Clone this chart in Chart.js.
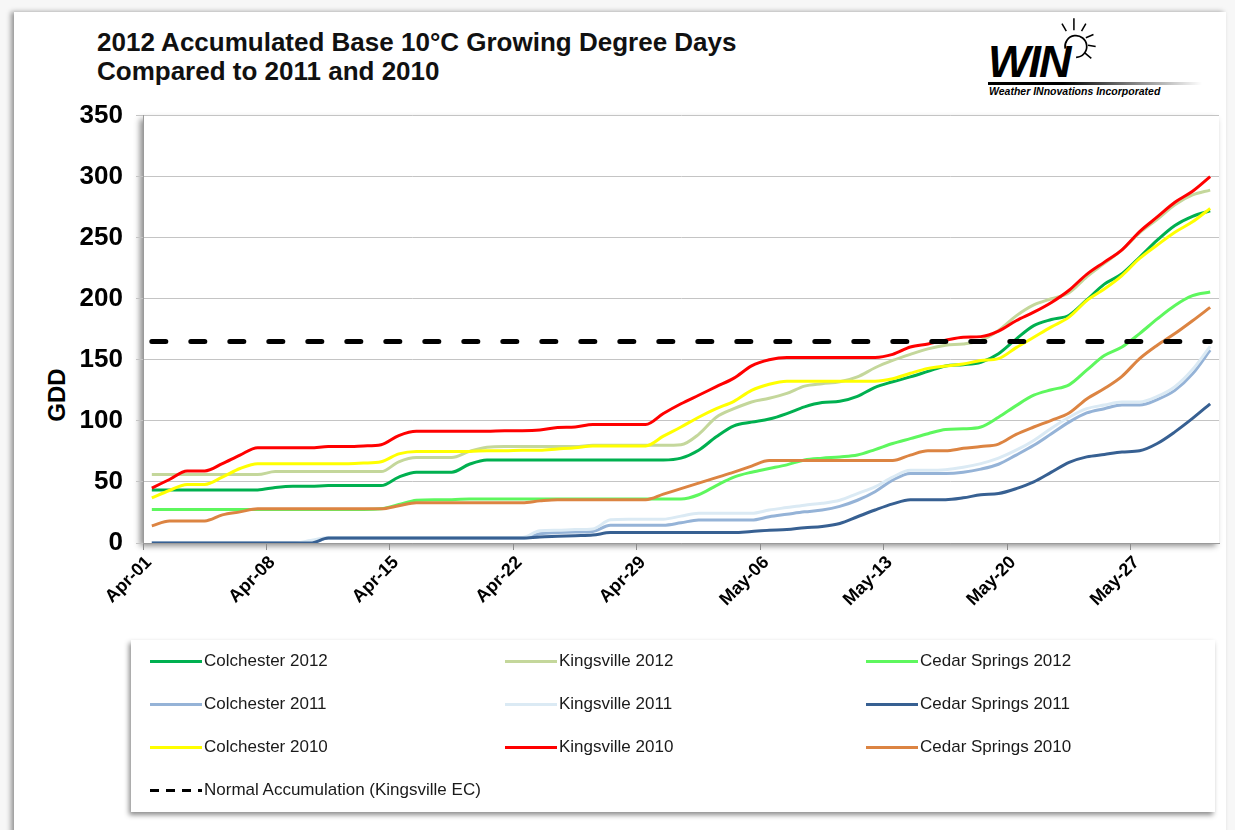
<!DOCTYPE html>
<html>
<head>
<meta charset="utf-8">
<script src="https://cdn.jsdelivr.net/npm/chart.js@4.4.0/dist/chart.umd.min.js"></script>
<style>
  body { margin: 0; width: 1235px; height: 830px; background: #f7f7f7; overflow: hidden; position: relative;
         font-family: "Liberation Sans", Arial, sans-serif; }
  #card { position: absolute; left: 14px; top: 12px; width: 1212px; height: 840px; background: #fff;
          box-shadow: -3px 0 5px rgba(0,0,0,0.4); }
  #title { position: absolute; left: 97px; top: 28px; font-weight: bold; font-size: 26px; line-height: 29px; color: #111; }
  #gdd { position: absolute; left: 57px; top: 395px; transform: translate(-50%, -50%) rotate(-90deg);
         font-weight: bold; font-size: 24px; color: #000; }
  #chartBox { position: absolute; left: 0; top: 87px; width: 1235px; height: 553px; }
  #legend { position: absolute; left: 131px; top: 640px; width: 1084px; height: 172px; background: #fff;
            box-shadow: -2px 3px 5px rgba(0,0,0,0.45); }
  .item { position: absolute; height: 20px; display: flex; align-items: center; font-size: 17px; color: #1a1a1a; white-space: nowrap; }
  .swatch { width: 52px; height: 3px; margin-right: 2px; }
  .dash { width: 52px; height: 3px; margin-right: 2px; background: repeating-linear-gradient(to right, #000 0 9px, transparent 9px 16px); }
  #logo { position: absolute; left: 986px; top: 14px; width: 220px; height: 90px; }
  #win { position: absolute; left: 2px; top: 22px; font-size: 45px; font-weight: bold; font-style: italic; letter-spacing: -2px; color: #000; }
  #bar { position: absolute; left: 2px; top: 68px; width: 214px; height: 3px; background: linear-gradient(to right, #000 35%, rgba(0,0,0,0)); }
  #sub { position: absolute; left: 3px; top: 71px; font-size: 10.5px; font-weight: bold; font-style: italic; color: #000; }
  #sun { position: absolute; left: 64px; top: 2px; }
</style>
</head>
<body>
<div id="card"></div>
<div id="title">2012 Accumulated Base 10°C Growing Degree Days<br>Compared to 2011 and 2010</div>
<div id="logo">
  <svg id="sun" width="50" height="50" viewBox="0 0 46 46">
    <path d="M14 30 A10 10 0 1 1 24 38" fill="none" stroke="#000" stroke-width="1.6"/>
    <g stroke="#000" stroke-width="1.4">
      <line x1="22" y1="2" x2="22" y2="13"/>
      <line x1="33" y1="7" x2="29" y2="14"/>
      <line x1="40" y1="17" x2="33" y2="20"/>
      <line x1="42" y1="28" x2="35" y2="27"/>
      <line x1="38" y1="39" x2="32" y2="34"/>
      <line x1="11" y1="7" x2="15" y2="14"/>
    </g>
  </svg>
  <div id="win">WIN</div>
  <div id="bar"></div>
  <div id="sub">Weather INnovations Incorporated</div>
</div>
<div id="gdd">GDD</div>
<div id="chartBox"><canvas id="chart"></canvas></div>
<div id="legend"></div>
<script>
var dateLabels = ['Apr-01', 'Apr-02', 'Apr-03', 'Apr-04', 'Apr-05', 'Apr-06', 'Apr-07', 'Apr-08', 'Apr-09', 'Apr-10',
    'Apr-11', 'Apr-12', 'Apr-13', 'Apr-14', 'Apr-15', 'Apr-16', 'Apr-17', 'Apr-18', 'Apr-19', 'Apr-20',
    'Apr-21', 'Apr-22', 'Apr-23', 'Apr-24', 'Apr-25', 'Apr-26', 'Apr-27', 'Apr-28', 'Apr-29', 'Apr-30',
    'May-01', 'May-02', 'May-03', 'May-04', 'May-05', 'May-06', 'May-07', 'May-08', 'May-09', 'May-10',
    'May-11', 'May-12', 'May-13', 'May-14', 'May-15', 'May-16', 'May-17', 'May-18', 'May-19', 'May-20',
    'May-21', 'May-22', 'May-23', 'May-24', 'May-25', 'May-26', 'May-27', 'May-28', 'May-29', 'May-30',
    'May-31'];

var colchester2012 = [43.5, 43.5, 43.5, 43.5, 43.5, 43.5, 43.5, 45.5, 46.5, 46.5,
    47, 47, 47, 47, 54, 58, 58, 58, 64.5, 68,
    68, 68, 68, 68, 68, 68, 68, 68, 68, 68,
    69.5, 76, 87, 96, 99, 101.5, 106, 111.5, 115, 116,
    120, 127.5, 132, 136, 140.5, 145, 146, 148, 155, 167,
    178, 183, 186.5, 199, 212, 220.5, 234, 248, 260, 267.5,
    272];
var kingsville2012 = [56, 56, 56, 56, 56, 56, 56, 58.5, 58.5, 58.5,
    58.5, 58.5, 58.5, 58.5, 66.5, 70, 70, 70, 75, 78.5,
    79, 79, 79, 79, 79, 80, 80, 80, 80, 80,
    80.5, 89, 103, 110, 115.5, 118.5, 122.5, 128.5, 130.5, 132,
    136, 143.5, 149.5, 154.5, 159, 162, 163, 166, 174, 186,
    195, 200, 205, 218, 229, 240, 254, 265, 277, 285,
    289];
var cedarSprings2012 = [27.5, 27.5, 27.5, 27.5, 27.5, 27.5, 27.5, 27.5, 27.5, 27.5,
    27.5, 27.5, 27.5, 28, 31.5, 35, 35.5, 35.5, 36, 36,
    36, 36, 36, 36, 36, 36, 36, 36, 36, 36,
    36, 39.5, 47, 54, 58, 61, 64, 68, 69.5, 70.5,
    72, 76.5, 81.5, 85.5, 89.5, 93, 93.5, 95, 103, 112.5,
    121, 125.5, 129.5, 141.5, 153.5, 160.5, 171.5, 183.5, 194.5, 202.5,
    205.5];
var colchester2011 = [0, 0, 0, 0, 0, 0, 0, 0, 0, 0,
    4, 4, 4, 4, 4, 4, 4, 4, 4, 4,
    4, 4, 7.5, 8.5, 9, 9.5, 14.5, 14.5, 14.5, 14.5,
    16.5, 18.8, 18.8, 18.8, 18.8, 21.5, 23.5, 25.5, 27, 30,
    35, 42, 51.5, 57, 57, 57, 58, 60.5, 64.5, 72,
    80, 89.5, 99, 106.5, 110, 113, 113, 117.5, 125, 138.5,
    158];
var kingsville2011 = [0, 0, 0, 0, 0, 0, 0, 0, 0, 2,
    4.5, 4.5, 4.5, 4.5, 4.5, 4.5, 4.5, 4.5, 4.5, 4.5,
    4.5, 4.5, 10, 10.5, 11, 11.5, 19, 19.5, 19.5, 19.5,
    22, 24.3, 24.3, 24.3, 24.3, 27, 29, 31, 32.5, 35,
    40.5, 46, 54, 59.5, 59.5, 60, 62, 65, 69.5, 76,
    84, 94, 103, 110, 113, 115.5, 115.5, 120, 128, 142,
    161];
var cedarSprings2011 = [0, 0, 0, 0, 0, 0, 0, 0, 0, 0,
    4, 4, 4, 4, 4, 4, 4, 4, 4, 4,
    4, 4, 5, 5.5, 6, 6.5, 8.5, 8.5, 8.5, 8.5,
    8.5, 8.5, 8.5, 8.5, 9.5, 10.5, 11, 12.5, 13.5, 16,
    21.5, 27, 32, 35.5, 35.5, 35.5, 37, 39.5, 40.5, 44.5,
    50, 58, 66, 70.5, 72.5, 74.5, 75.5, 81.5, 91, 102,
    114];
var colchester2010 = [37, 43, 48, 48, 54, 61, 65, 65, 65, 65,
    65, 65, 65.5, 66.5, 73, 75, 75, 75, 75, 75.5,
    75.5, 76, 76, 77, 78, 79.5, 79.5, 79.5, 79.5, 87.5,
    95, 103, 110, 116, 125, 130, 132.5, 132.5, 132.5, 132.5,
    132.5, 132.5, 134.5, 139, 143, 145, 146.5, 149.5, 151, 160,
    168.5, 177, 185, 198.5, 208, 219, 233, 244, 254.5, 263,
    274];
var kingsville2010 = [45, 52, 59, 59, 65, 72, 78, 78, 78, 78,
    79, 79, 79.5, 80.5, 88, 91.5, 91.5, 91.5, 91.5, 91.5,
    92, 92, 92.5, 94.5, 95, 97, 97, 97, 97, 106,
    114, 121, 128, 135, 145, 150, 152, 152, 152, 152,
    152, 152, 154.5, 160.5, 163, 166, 168.5, 169, 173.5, 182,
    189, 197, 207, 220, 230, 240, 255, 267, 279, 288,
    300];
var cedarSprings2010 = [14, 18, 18, 18, 23, 25.5, 28, 28, 28, 28,
    28, 28, 28, 28, 30.5, 33, 33, 33, 33, 33,
    33, 33, 34.5, 35.5, 35.5, 35.5, 35.5, 35.5, 35.5, 40,
    44.5, 49, 53.5, 58, 63, 67.5, 67.5, 67.5, 67.5, 67.5,
    67.5, 67.5, 67.5, 72, 75.5, 75.5, 77.5, 79, 81, 89,
    95, 100.5, 106.5, 118, 126.5, 136.5, 151, 162, 171.5, 182,
    193];
var normalKingsvilleEC = [165, 165, 165, 165, 165, 165, 165, 165, 165, 165,
    165, 165, 165, 165, 165, 165, 165, 165, 165, 165,
    165, 165, 165, 165, 165, 165, 165, 165, 165, 165,
    165, 165, 165, 165, 165, 165, 165, 165, 165, 165,
    165, 165, 165, 165, 165, 165, 165, 165, 165, 165,
    165, 165, 165, 165, 165, 165, 165, 165, 165, 165,
    165];

var yTicks = [0, 50, 100, 150, 200, 250, 300, 350];

var seriesNames = ['Colchester 2012', 'Kingsville 2012', 'Cedar Springs 2012',
    'Colchester 2011', 'Kingsville 2011', 'Cedar Springs 2011',
    'Colchester 2010', 'Kingsville 2010', 'Cedar Springs 2010',
    'Normal Accumulation (Kingsville EC)'];
var seriesData = [colchester2012, kingsville2012, cedarSprings2012,
    colchester2011, kingsville2011, cedarSprings2011,
    colchester2010, kingsville2010, cedarSprings2010,
    normalKingsvilleEC];
var seriesColors = ['#00b050', '#c4d79b', '#5ef75e',
    '#95b3d7', '#dbeaf4', '#376092',
    '#ffff00', '#ff0000', '#dc8442',
    '#000000'];

var fontFamily = '"Liberation Sans", Arial, sans-serif';

var datasets = seriesNames.map(function (name, i) {
    var isNormal = i === seriesNames.length - 1;
    return {
        label: name,
        data: seriesData[i],
        borderColor: seriesColors[i],
        backgroundColor: seriesColors[i],
        borderWidth: isNormal ? 5 : 3,
        borderDash: isNormal ? [14, 25] : [],
        borderCapStyle: isNormal ? 'round' : 'butt',
        pointRadius: 0,
        cubicInterpolationMode: 'monotone',
        fill: false,
        order: seriesNames.length - i
    };
});

var plotShadow = {
    id: 'plotShadow',
    beforeDraw: function (chart) {
        var a = chart.chartArea;
        var c = chart.ctx;
        c.save();
        c.shadowColor = 'rgba(0, 0, 0, 0.45)';
        c.shadowBlur = 6;
        c.shadowOffsetX = -3;
        c.shadowOffsetY = 3;
        c.fillStyle = '#fff';
        c.fillRect(a.left, a.top, a.right - a.left, a.bottom - a.top);
        c.restore();
    }
};

new Chart(document.getElementById('chart'), {
    type: 'line',
    data: { labels: dateLabels, datasets: datasets },
    plugins: [plotShadow],
    options: {
        responsive: true,
        maintainAspectRatio: false,
        animation: false,
        layout: { padding: { top: 3, right: 16, left: 0, bottom: 0 } },
        plugins: { legend: { display: false }, tooltip: { enabled: false } },
        scales: {
            x: {
                type: 'category',
                offset: true,
                grid: {
                    offset: true,
                    drawOnChartArea: false,
                    tickLength: 7,
                    color: function (ctx) { return ctx.index % 7 === 0 ? '#8c8c8c' : 'rgba(0,0,0,0)'; },
                    tickColor: function (ctx) { return ctx.index % 7 === 0 ? '#8c8c8c' : 'rgba(0,0,0,0)'; }
                },
                border: { color: '#9a9a9a', width: 1 },
                ticks: {
                    autoSkip: false,
                    maxRotation: 45,
                    minRotation: 45,
                    padding: 2,
                    labelOffset: -3,
                    color: '#000',
                    font: { family: fontFamily, size: 18, weight: 'bold' },
                    callback: function (v, i) { return i % 7 === 0 ? dateLabels[i] : ''; }
                },
                afterFit: function (s) { s.height = 97; }
            },
            y: {
                min: yTicks[0],
                max: yTicks[yTicks.length - 1],
                afterBuildTicks: function (s) { s.ticks = yTicks.map(function (v) { return { value: v }; }); },
                grid: { color: '#c4c4c4', tickLength: 7 },
                border: { color: '#9a9a9a', width: 1 },
                ticks: {
                    padding: 13,
                    color: '#000',
                    font: { family: fontFamily, size: 26, weight: 'bold' }
                },
                afterFit: function (s) { s.width = 143; }
            }
        }
    }
});

// legend, three columns like the original
var legend = document.getElementById('legend');
var colLeft = [19, 374, 735];
var rowTop = [11, 54, 97, 140];
seriesNames.forEach(function (name, i) {
    var item = document.createElement('div');
    item.className = 'item';
    item.style.left = colLeft[i % 3] + 'px';
    item.style.top = rowTop[Math.floor(i / 3)] + 'px';
    var sw = document.createElement('span');
    if (i === seriesNames.length - 1) {
        sw.className = 'dash';
    } else {
        sw.className = 'swatch';
        sw.style.background = seriesColors[i];
    }
    var tx = document.createElement('span');
    tx.textContent = name;
    item.appendChild(sw);
    item.appendChild(tx);
    legend.appendChild(item);
});
</script>
</body>
</html>
